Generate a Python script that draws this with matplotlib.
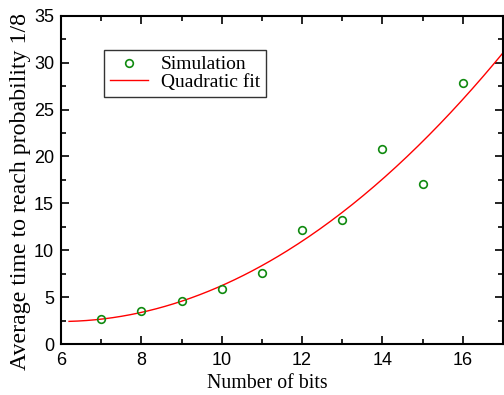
import numpy as np
import matplotlib
matplotlib.use("Agg")
import matplotlib.pyplot as plt
from matplotlib.ticker import MultipleLocator

bits = [7, 8, 9, 10, 11, 12, 13, 14, 15, 16]
avg_time = [2.62, 3.55, 4.6, 5.9, 7.6, 12.2, 13.2, 20.85, 17.1, 27.85]

fig = plt.figure(figsize=(5.04, 3.95), dpi=100)
ax = fig.add_axes([0.121, 0.129, 0.877, 0.831])

coef = np.polyfit(bits, avg_time, 2)
xf = np.linspace(6.2, 17, 200)
ax.plot(xf, np.polyval(coef, xf), color='#ff0000', lw=1.0, label='Quadratic fit')
ax.plot(bits, avg_time, 'o', mfc='none', mec='#108a10', mew=1.2, ms=5.5, label='Simulation')

ax.set_xlim(6, 17)
ax.set_ylim(0, 35)
ax.xaxis.set_major_locator(MultipleLocator(2))
ax.xaxis.set_minor_locator(MultipleLocator(1))
ax.yaxis.set_major_locator(MultipleLocator(5))
ax.yaxis.set_minor_locator(MultipleLocator(2.5))
ax.tick_params(which='both', direction='in', top=True, right=True, width=1.2)
ax.tick_params(which='major', length=6, labelsize=13)
ax.tick_params(axis='x', which='major', pad=6)
ax.tick_params(axis='y', which='major', pad=5)
ax.tick_params(which='minor', length=3.5)
for lab in ax.get_xticklabels() + ax.get_yticklabels():
    lab.set_family('Liberation Sans')
for s in ax.spines.values():
    s.set_linewidth(1.5)

ax.set_xlabel('Number of bits', family='Liberation Serif', fontsize=14.3)
ax.set_ylabel('Average time to reach probability 1/8', family='Liberation Serif', fontsize=17.2)
ax.xaxis.set_label_coords(0.466, -0.09)
ax.yaxis.set_label_coords(-0.068, 0.466)

h, l = ax.get_legend_handles_labels()
leg = ax.legend([h[1], h[0]], [l[1], l[0]], loc='upper left', bbox_to_anchor=(0.097, 0.896),
                prop={'family': 'Liberation Serif', 'size': 14}, frameon=True, fancybox=False,
                edgecolor='black', handlelength=1.95, borderpad=0.3, labelspacing=0.0,
                handletextpad=0.67, borderaxespad=0)
leg.get_frame().set_linewidth(1.0)

fig.savefig('out.png', dpi=100)
